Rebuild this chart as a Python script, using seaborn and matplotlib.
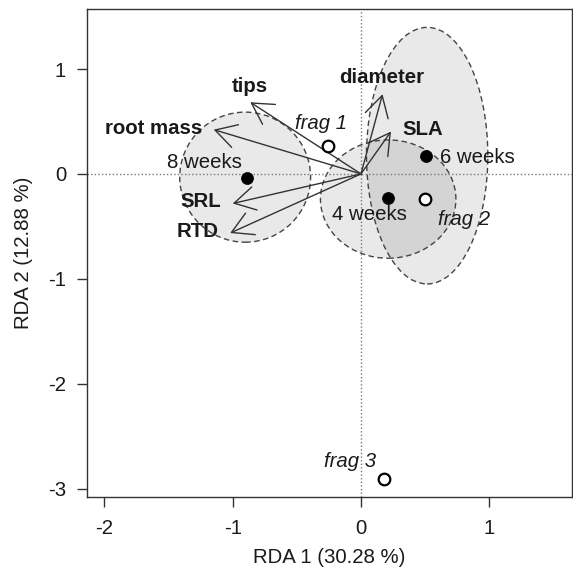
import numpy as np
import pandas as pd
import matplotlib
matplotlib.use("Agg")
import matplotlib.pyplot as plt
from matplotlib.patches import Ellipse
import seaborn as sns

# ---- data ----
group_names = ["8 weeks", "6 weeks", "4 weeks"]
group_x = [-0.892, 0.504, 0.214]
group_y = [-0.035, 0.167, -0.226]

frag_names = ["frag 1", "frag 2", "frag 3"]
frag_x = [-0.259, 0.499, 0.177]
frag_y = [0.265, -0.240, -2.906]

trait_names = ["tips", "root mass", "SRL", "RTD", "diameter", "SLA"]
trait_x = [-0.863, -1.148, -1.000, -1.020, 0.168, 0.234]
trait_y = [0.683, 0.422, -0.282, -0.564, 0.760, 0.404]

ellipse_cx = [-0.903, 0.516, 0.212]
ellipse_cy = [-0.031, 0.174, -0.240]
ellipse_w = [1.02, 0.946, 1.056]
ellipse_h = [1.24, 2.446, 1.128]

x_ticks = [-2, -1, 0, 1]
y_ticks = [-3, -2, -1, 0, 1]
x_label = "RDA 1 (30.28 %)"
y_label = "RDA 2 (12.88 %)"

# ---- style ----
sns.set_style("ticks")
plt.rcParams["font.family"] = ["Liberation Sans", "DejaVu Sans"]
FS = 14.7
TXT = "#1a1a1a"

fig = plt.figure(figsize=(5.73, 5.70), dpi=100)
ax = fig.add_axes([87 / 573, 73 / 570, 485 / 573, 488 / 570])
ax.set_xlim(-2.136, 1.645)
ax.set_ylim(-3.080, 1.572)

# ellipses
for cx, cy, w, h in zip(ellipse_cx, ellipse_cy, ellipse_w, ellipse_h):
    ax.add_patch(Ellipse((cx, cy), w, h, facecolor="black", alpha=0.085,
                         edgecolor="none", zorder=1))
    ax.add_patch(Ellipse((cx, cy), w, h, facecolor="none", edgecolor="#444444",
                         linewidth=1.0, linestyle=(0, (4, 2.5)), zorder=2))

# reference lines
ax.axhline(0, color="#777777", linestyle=(0, (1, 1.6)), linewidth=1.0, zorder=2)
ax.axvline(0, color="#777777", linestyle=(0, (1, 1.6)), linewidth=1.0, zorder=2)

# trait arrows
for tx, ty in zip(trait_x, trait_y):
    ax.annotate("", xy=(tx, ty), xytext=(0, 0),
                arrowprops=dict(arrowstyle="->,head_length=1.5,head_width=0.85",
                                color="#333333", lw=1.0, shrinkA=0, shrinkB=0,
                                mutation_scale=10),
                zorder=3)

# trait labels (offsets in points from arrow tips)
trait_offsets = {"tips": (-0.5, 11.5, "center"), "root mass": (-8, 0.8, "right"),
                 "SRL": (-8, 1.5, "right"), "RTD": (-8, 1.3, "right"),
                 "diameter": (-0.5, 12, "center"), "SLA": (8, 1.3, "left")}
for name, tx, ty in zip(trait_names, trait_x, trait_y):
    dx, dy, ha = trait_offsets[name]
    ax.annotate(name, (tx, ty), xytext=(dx, dy), textcoords="offset points",
                ha=ha, va="center", fontsize=FS, fontweight="bold", color=TXT,
                zorder=5)

# points
pts = pd.DataFrame({
    "x": group_x + frag_x,
    "y": group_y + frag_y,
    "kind": ["group"] * len(group_x) + ["frag"] * len(frag_x),
})
sns.scatterplot(data=pts[pts.kind == "group"], x="x", y="y", ax=ax, s=75,
                color="black", edgecolor="black", linewidth=0.5, zorder=6,
                legend=False)
sns.scatterplot(data=pts[pts.kind == "frag"], x="x", y="y", ax=ax, s=70,
                facecolor="white", edgecolor="black", linewidth=1.6, zorder=6,
                legend=False)

group_offsets = {"8 weeks": (-30, 11, "center"), "6 weeks": (10.5, -0.5, "left"),
                 "4 weeks": (-14, -12, "center")}
for name, gx, gy in zip(group_names, group_x, group_y):
    dx, dy, ha = group_offsets[name]
    ax.annotate(name, (gx, gy), xytext=(dx, dy), textcoords="offset points",
                ha=ha, va="center", fontsize=FS, color=TXT, zorder=5)

frag_offsets = {"frag 1": (-5, 16), "frag 2": (28, -14.5), "frag 3": (-24, 12.5)}
for name, fx, fy in zip(frag_names, frag_x, frag_y):
    dx, dy = frag_offsets[name]
    ax.annotate(name, (fx, fy), xytext=(dx, dy), textcoords="offset points",
                ha="center", va="center", fontsize=FS, style="italic", color=TXT,
                zorder=5)

# axes styling
ax.set_xticks(x_ticks)
ax.set_yticks(y_ticks)
ax.set_xticklabels([str(t) for t in x_ticks])
ax.set_yticklabels([str(t) for t in y_ticks])
ax.tick_params(axis="both", direction="out", length=7, width=1.0, color="#333333",
               labelsize=FS, labelcolor=TXT)
ax.tick_params(axis="x", pad=9)
ax.tick_params(axis="y", pad=8)
for sp in ax.spines.values():
    sp.set_visible(True)
    sp.set_color("#333333")
    sp.set_linewidth(1.0)
ax.set_xlabel(x_label, fontsize=FS, color=TXT, labelpad=7)
ax.set_ylabel(y_label, fontsize=FS, color=TXT, labelpad=11)
ax.grid(False)

fig.savefig("out.png", dpi=100)
